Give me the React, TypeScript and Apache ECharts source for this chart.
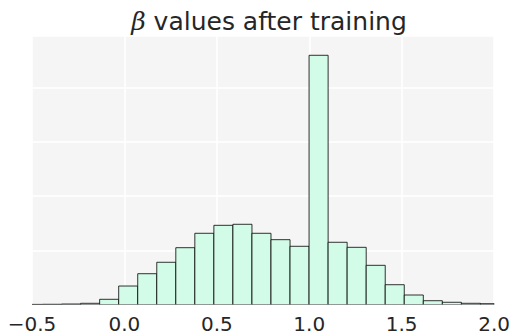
import React, { useEffect, useRef } from "react";
import * as echarts from "echarts";

// Histogram bin edges (left, right) and counts
const binLeft = [
  -0.546, -0.443, -0.34, -0.237, -0.134, -0.031, 0.072, 0.175, 0.278, 0.381,
  0.484, 0.587, 0.69, 0.793, 0.896, 0.999, 1.102, 1.205, 1.308, 1.411, 1.514,
  1.617, 1.72, 1.823, 1.926,
];
const binWidth = 0.103;
const counts = [
  0.2, 0.4, 0.9, 2.2, 9.6, 34.1, 56.8, 77.9, 104.8, 131.4, 146.1, 148.0, 131.4,
  119.6, 107.4, 459.8, 114.8, 105.5, 72.3, 36.5, 17.5, 7.0, 4.1, 2.2, 1.5,
];
const xTicks = [-0.5, 0.0, 0.5, 1.0, 1.5, 2.0];
const titleText = "values after training";

export default function App() {
  const ref = useRef<HTMLDivElement>(null);
  useEffect(() => {
    if (!ref.current) return;
    document.body.style.margin = "0";
    const chart = echarts.init(ref.current, null, { renderer: "svg" });
    const data = binLeft.map((l, i) => [l, l + binWidth, counts[i]]);
    chart.setOption({
      animation: false,
      title: {
        text: "{b|β} " + titleText,
        left: 264,
        textAlign: "center",
        top: 4,
        textStyle: {
          fontSize: 25,
          fontWeight: "normal",
          color: "#262626",
          fontFamily: "DejaVu Sans",
          rich: {
            b: {
              fontSize: 25,
              fontStyle: "italic",
              fontFamily: "DejaVu Serif",
              color: "#262626",
            },
          },
        },
      },
      grid: {
        left: 32,
        right: 16,
        top: 36,
        bottom: 30.5,
        show: true,
        backgroundColor: "#f5f5f5",
        borderWidth: 0,
      },
      xAxis: {
        type: "value",
        min: xTicks[0],
        max: xTicks[xTicks.length - 1],
        interval: 0.5,
        axisLine: { show: false },
        axisTick: { show: false },
        axisLabel: {
          fontSize: 20,
          color: "#262626",
          fontFamily: "DejaVu Sans",
          margin: 9,
          formatter: (v: number) => v.toFixed(1).replace("-", "\u2212"),
        },
        splitLine: { show: true, lineStyle: { color: "#ffffff", width: 1.5 } },
      },
      yAxis: {
        type: "value",
        min: 0,
        max: 495.4,
        interval: 100,
        axisLine: { show: false },
        axisTick: { show: false },
        axisLabel: { show: false },
        splitLine: { show: true, lineStyle: { color: "#ffffff", width: 1.5 } },
      },
      series: [
        {
          type: "custom",
          clip: true,
          data,
          encode: { x: [0, 1], y: 2 },
          renderItem: (params: any, api: any) => {
            const x0 = api.value(0);
            const x1 = api.value(1);
            const y = api.value(2);
            const p0 = api.coord([x0, y]);
            const p1 = api.coord([x1, 0]);
            const cs = params.coordSys;
            const left = Math.max(p0[0], cs.x);
            const right = Math.min(p1[0], cs.x + cs.width);
            if (right <= left) return null;
            return {
              type: "rect",
              shape: { x: left, y: p0[1], width: right - left, height: p1[1] - p0[1] },
              style: {
                fill: "#d3fce8",
                stroke: "rgba(0,0,0,0.8)",
                lineWidth: 1,
              },
            };
          },
        },
      ],
    });
    return () => chart.dispose();
  }, []);
  return <div ref={ref} style={{ width: 513, height: 335 }} />;
}
